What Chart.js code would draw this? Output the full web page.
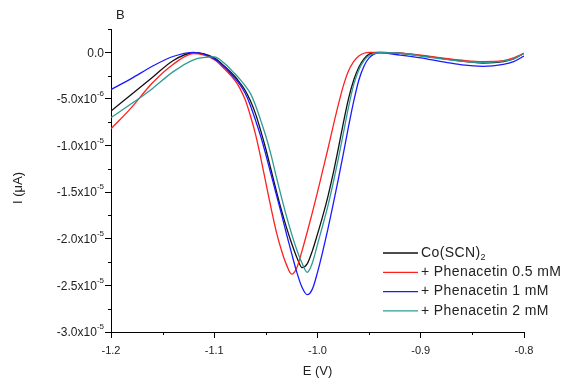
<!DOCTYPE html>
<html>
<head>
<meta charset="utf-8">
<script src="https://cdn.jsdelivr.net/npm/chart.js@4.4.0/dist/chart.umd.min.js"></script>
<style>
    html, body { margin: 0; padding: 0; background: #fff; }
    canvas { display: block; }
</style>
</head>
<body>
<canvas id="chart" width="564" height="379"></canvas>
<script>
// E (V), shared by all curves
const potential = [-1.2, -1.18, -1.16, -1.14, -1.12, -1.10, -1.09, -1.08, -1.075, -1.07, -1.065, -1.06, -1.055,
    -1.05, -1.045, -1.04, -1.035, -1.03, -1.025, -1.02, -1.015, -1.01, -1.005, -1.00, -0.995, -0.99, -0.985,
    -0.98, -0.975, -0.97, -0.965, -0.96, -0.955, -0.95, -0.94, -0.92, -0.90, -0.88, -0.86, -0.84, -0.82, -0.81, -0.80];

// current, in units of 1e-6
const coSCN = [-6.3, -4.5, -2.7, -0.9, -0.05, -0.6, -1.5, -2.6, -3.3, -4.1, -5.2, -6.6, -8.4,
    -10.4, -12.6, -14.8, -16.9, -18.8, -20.5, -22.0, -23.1, -22.7, -21.3, -19.5, -17.6, -15.5, -13.1,
    -10.4, -7.6, -5.0, -3.0, -1.6, -0.7, -0.2, 0, -0.1, -0.35, -0.65, -0.95, -1.15, -1.0, -0.7, -0.1];
const phen05 = [-8.2, -5.9, -3.3, -1.3, -0.15, -0.8, -1.8, -3.0, -3.9, -5.1, -6.8, -8.8, -11.3,
    -14.0, -16.7, -19.2, -21.2, -22.8, -23.8, -23.1, -21.3, -19.3, -17.2, -15.0, -12.7, -10.4, -8.0,
    -5.7, -3.6, -2.0, -1.0, -0.4, -0.1, 0, 0, -0.1, -0.3, -0.6, -0.85, -1.0, -0.9, -0.6, -0.1];
const phen1 = [-4.0, -2.8, -1.5, -0.45, 0, -0.7, -1.6, -2.8, -3.5, -4.4, -5.7, -7.3, -9.0,
    -11.0, -13.1, -15.2, -17.3, -19.5, -21.6, -23.6, -25.2, -26.0, -25.4, -23.6, -21.4, -19.0, -16.4,
    -13.7, -10.9, -8.0, -5.3, -3.0, -1.5, -0.6, -0.05, -0.3, -0.6, -1.0, -1.35, -1.5, -1.3, -1.0, -0.4];
const phen2 = [-7.0, -5.5, -3.9, -2.1, -0.8, -0.5, -1.2, -2.3, -2.9, -3.6, -4.4, -5.7, -7.3,
    -9.0, -11.0, -13.3, -15.5, -17.6, -19.5, -21.2, -22.6, -23.6, -22.6, -20.6, -18.6, -16.5, -14.1,
    -11.5, -8.7, -5.9, -3.5, -1.9, -0.9, -0.35, -0.05, -0.1, -0.4, -0.7, -0.95, -1.1, -0.95, -0.7, -0.1];

const seriesNames = ['Co(SCN)', '+ Phenacetin 0.5 mM', '+ Phenacetin 1 mM', '+ Phenacetin 2 mM'];
const seriesSubscripts = ['2', '', '', ''];
const seriesValues = [coSCN, phen05, phen1, phen2];

const xTicks = [-1.2, -1.1, -1.0, -0.9, -0.8];
const xTickLabels = ['-1.2', '-1.1', '-1.0', '-0.9', '-0.8'];
const xMinorTicks = [-1.15, -1.05, -0.95, -0.85];
const yTicks = [0, -5, -10, -15, -20, -25, -30];
const yTickMantissa = ['0.0', '-5.0x10', '-1.0x10', '-1.5x10', '-2.0x10', '-2.5x10', '-3.0x10'];
const yTickExponent = ['', '-6', '-5', '-5', '-5', '-5', '-5'];
const yMinorTicks = [2.5, -2.5, -7.5, -12.5, -17.5, -22.5, -27.5];

const colors = ['#111111', '#ff2020', '#1a1aff', '#2f9a94'];
const FONT = "'Liberation Sans', Arial, sans-serif";

const decorations = {
    id: 'decorations',
    afterDraw(chart) {
        const ctx = chart.ctx;
        const x = chart.scales.x;
        const y = chart.scales.y;
        ctx.save();

        // minor ticks
        ctx.strokeStyle = '#000';
        ctx.lineWidth = 1;
        ctx.beginPath();
        xMinorTicks.forEach(v => {
            const px = Math.round(x.getPixelForValue(v)) + 0.5;
            ctx.moveTo(px, y.bottom);
            ctx.lineTo(px, y.bottom + 3);
        });
        yMinorTicks.forEach(v => {
            const py = Math.round(y.getPixelForValue(v)) + 0.5;
            ctx.moveTo(x.left, py);
            ctx.lineTo(x.left - 3, py);
        });
        ctx.stroke();

        ctx.fillStyle = '#222';
        ctx.textBaseline = 'middle';

        // y tick labels with superscript exponent
        const labelRight = x.left - 7;
        yTicks.forEach((v, i) => {
            const py = y.getPixelForValue(v);
            ctx.textAlign = 'right';
            ctx.font = '8px ' + FONT;
            const expWidth = yTickExponent[i] ? ctx.measureText(yTickExponent[i]).width : 0;
            if (yTickExponent[i]) {
                ctx.fillText(yTickExponent[i], labelRight, py - 5);
            }
            ctx.font = '12px ' + FONT;
            ctx.fillText(yTickMantissa[i], labelRight - expWidth, py + 1);
        });

        // panel letter
        ctx.textAlign = 'left';
        ctx.font = '13px ' + FONT;
        ctx.fillText('B', 116, 15);

        // y title
        ctx.save();
        ctx.translate(18, 188);
        ctx.rotate(-Math.PI / 2);
        ctx.textAlign = 'center';
        ctx.fillText('I (μA)', 0, 0);
        ctx.restore();

        // legend
        seriesNames.forEach((name, i) => {
            const rowY = 253 + i * 19.3;
            ctx.strokeStyle = colors[i];
            ctx.lineWidth = 1.3;
            ctx.beginPath();
            ctx.moveTo(383, rowY);
            ctx.lineTo(418, rowY);
            ctx.stroke();
            ctx.fillStyle = '#222';
            ctx.textAlign = 'left';
            ctx.font = '14px ' + FONT;
            ctx.letterSpacing = '0.4px';
            ctx.fillText(name, 421, rowY);
            if (seriesSubscripts[i]) {
                const w = ctx.measureText(name).width;
                ctx.font = '9px ' + FONT;
                ctx.letterSpacing = '0px';
                ctx.fillText(seriesSubscripts[i], 421 + w, rowY + 5);
            }
        });
        ctx.restore();
    }
};

new Chart(document.getElementById('chart'), {
    type: 'line',
    data: {
        datasets: seriesNames.map((name, i) => ({
            label: name + seriesSubscripts[i],
            data: potential.map((e, k) => ({ x: e, y: seriesValues[i][k] })),
            borderColor: colors[i],
            borderWidth: 1.3,
            pointRadius: 0,
            cubicInterpolationMode: 'monotone',
            fill: false,
            order: 3 - i
        }))
    },
    options: {
        responsive: false,
        animation: false,
        layout: { padding: { left: 0, top: 29, right: 40, bottom: 0 } },
        plugins: {
            legend: { display: false },
            tooltip: { enabled: false }
        },
        scales: {
            x: {
                type: 'linear',
                min: -1.2,
                max: -0.8,
                afterFit: (scale) => { scale.height = 47; },
                afterBuildTicks: (scale) => { scale.ticks = xTicks.map(v => ({ value: v })); },
                grid: { display: true, drawOnChartArea: false, drawTicks: true, tickLength: 6, color: '#000' },
                border: { display: true, color: '#000', width: 1 },
                ticks: {
                    autoSkip: false,
                    maxRotation: 0,
                    padding: 6,
                    color: '#222',
                    font: { family: FONT, size: 11 },
                    callback: (value, index) => xTickLabels[index]
                },
                title: {
                    display: true,
                    text: 'E (V)',
                    color: '#222',
                    font: { family: FONT, size: 13 },
                    padding: { top: 0, bottom: 0 }
                }
            },
            y: {
                type: 'linear',
                min: -30,
                max: 2.5,
                afterFit: (scale) => { scale.width = 111; },
                afterBuildTicks: (scale) => { scale.ticks = yTicks.map(v => ({ value: v })); },
                grid: { display: true, drawOnChartArea: false, drawTicks: true, tickLength: 6, color: '#000' },
                border: { display: true, color: '#000', width: 1 },
                ticks: { display: false }
            }
        }
    },
    plugins: [decorations]
});
</script>
</body>
</html>
